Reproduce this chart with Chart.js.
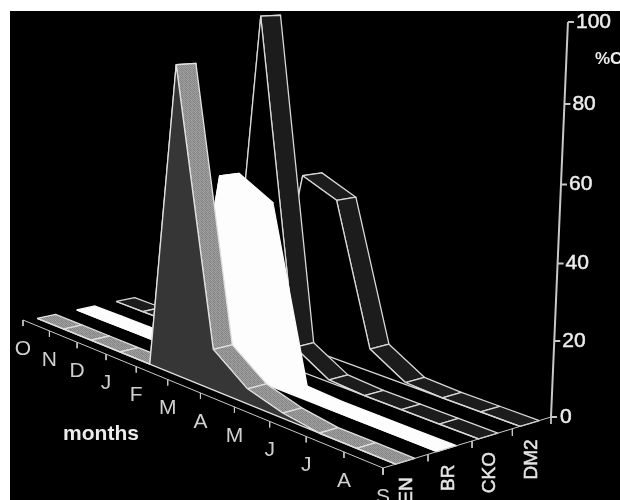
<!DOCTYPE html>
<html>
<head>
<meta charset="utf-8">
<style>html,body{margin:0;padding:0;background:#fff}canvas{display:block}</style>
<script src="https://cdn.jsdelivr.net/npm/chart.js@4/dist/chart.umd.min.js"></script>
</head>
<body>
<canvas id="c" width="620" height="500"></canvas>
<script>
// ---- data ----
const months = ["O","N","D","J","F","M","A","M","J","J","A","S"];
const seriesNames = ["EN","BR","CKO","DM2"];
const valuesEN  = [0,0,0,0,0,76.8,10.3,3.8,1.3,0,0,0];
const valuesBR  = [0,0,0,0,0,48.7,44.2,0.5,0,0,0,0];
const valuesCKO = [0,0,0,0,0,87.3,5.8,0.6,0,0,0,0];
const valuesDM2 = [0,0,0,0,0,45.8,42.2,6,0.5,0,0,0];
const yTicks = [0,20,40,60,80,100];

// ---- projection of (month, series depth, percent) to the flat plane of the scales ----
function monthT(i){const u=i/(months.length-1);return .788*u+.212*u*u;}
function ribbonT(i){const u=i/(months.length-1);return monthT(i)+.006*(1-u);}
function ground(t,s){
  const bx=23+160*s,by=320-34*s,fx=383+168*s,fy=468-51*s;
  return [bx+(fx-bx)*t,by+(fy-by)*t];
}
function proj(t,s,v){
  const g=ground(t,s);
  const k=3.95*(1+.1*(1-s))*(.92+.08*t);
  const h=v*(.9525+.000475*v)*k;
  return {x:g[0]+h*(g[0]-281)*.000159,y:g[1]-h};
}

// ---- texture for the grey ribbon ----
function tex(){
  const c=document.createElement('canvas');c.width=c.height=4;
  const x=c.getContext('2d');
  const g=[0x88,0x9c,0x84,0xa4,0xa0,0x80,0x98,0x8c,0x8a,0xa6,0x82,0x96,0x9e,0x86,0xa2,0x90];
  g.forEach((v,i)=>{x.fillStyle=`rgb(${v},${v},${v})`;x.fillRect(i%4,i>>2,1,1);});
  return x.createPattern(c,'repeat');
}
const styles=[
 {top:tex(),wall:'#363636',line:'#e0e0e0'},
 {top:'#fdfdfd',wall:'#fdfdfd',line:'#fdfdfd'},
 {top:'#1c1c1c',wall:'#000000',line:'#d8d8d8'},
 {top:'#1c1c1c',wall:'#000000',line:'#d8d8d8'}
];
const allValues=[valuesEN,valuesBR,valuesCKO,valuesDM2];
const W=.115;
function near(i){return .075+.247*i;}

const faces=[];
function face(points,fill,line){
  faces.push({data:points,backgroundColor:fill,borderColor:line,borderWidth:1.3,fill:'shape',
    pointRadius:0,pointHoverRadius:0,tension:0,borderJoinStyle:'round'});
}
for(let si=seriesNames.length-1;si>=0;si--){
  const vals=allValues[si],st=styles[si],s0=near(si),s1=s0+W;
  for(let m=0;m<months.length-1;m++){
    const a=ribbonT(m),b=ribbonT(m+1);
    const p=[proj(a,s0,vals[m]),proj(a,s1,vals[m]),proj(b,s1,vals[m+1]),proj(b,s0,vals[m+1])];
    p.push(p[0]);
    face(p,st.top,st.line);
  }
  const wall=vals.map((v,m)=>proj(ribbonT(m),s0,v));
  wall.push(proj(ribbonT(months.length-1),s0,0),proj(ribbonT(0),s0,0),wall[0]);
  face(wall,st.wall,st.line);
}
// axes
function axisLine(points,w){
  faces.push({data:points,borderColor:'#c8c8c8',backgroundColor:'transparent',borderWidth:w||1,fill:false,
    pointRadius:0,pointHoverRadius:0,tension:0,spanGaps:false});
}
const gap={x:NaN,y:NaN};
axisLine(months.map((_,i)=>proj(monthT(i),0,0)));
const mTicks=[];
months.forEach((_,i)=>{const p=proj(monthT(i),0,0);
  mTicks.push({x:p.x,y:p.y},{x:p.x,y:p.y+6},gap);});
axisLine(mTicks);
const sEdges=[0,.268,.53,.77,1];
axisLine(sEdges.map(s=>proj(1,s,0)));
const sTicks=[];
sEdges.forEach(s=>{const p=proj(1,s,0);sTicks.push({x:p.x,y:p.y},{x:p.x,y:p.y+7},gap);});
axisLine(sTicks);
axisLine(yTicks.map(v=>proj(1,1,v)),2);
const yT=[];
yTicks.forEach(v=>{const p=proj(1,1,v);yT.push({x:p.x,y:p.y},{x:p.x+6,y:p.y},gap);});
axisLine(yT,2);

faces.forEach((f,i)=>{f.order=faces.length-i;});

function label(c,text,x,y,w){
  c.fillText(text,x,y);
  if(w){c.lineWidth=w;c.strokeStyle=c.fillStyle;c.strokeText(text,x,y);}
}
const frame={
  id:'frame',
  beforeDraw(ch){
    const c=ch.ctx,X=ch.scales.x,Y=ch.scales.y;
    c.save();
    c.fillStyle='#fff';c.fillRect(0,0,620,500);
    c.fillStyle='#000';
    const x0=X.getPixelForValue(10),y0=Y.getPixelForValue(11);
    c.fillRect(x0,y0,X.getPixelForValue(620)-x0,Y.getPixelForValue(500)-y0);
    c.restore();
  },
  afterDatasetsDraw(ch){
    const c=ch.ctx,X=ch.scales.x,Y=ch.scales.y;
    c.save();
    c.textAlign='center';c.textBaseline='middle';
    const font='"Liberation Sans",Arial,sans-serif';
    c.fillStyle='#d0d0d0';
    c.font='21px '+font;
    months.forEach((m,i)=>{const p=proj(monthT(i),0,0);
      c.fillText(m,X.getPixelForValue(p.x),Y.getPixelForValue(p.y+29));});
    // percent ticks
    c.fillStyle='#ececec';
    c.textAlign='left';
    yTicks.forEach(v=>{const p=proj(1,1,v);
      label(c,String(v),X.getPixelForValue(p.x+(v===0?9:8)),Y.getPixelForValue(p.y),.5);});
    c.font='bold 17px '+font;
    c.fillText('%C',X.getPixelForValue(595),Y.getPixelForValue(59));
    c.fillStyle='#ececec';
    c.font='bold 21px '+font;
    c.textAlign='center';
    c.fillText('months',X.getPixelForValue(101),Y.getPixelForValue(434));
    // series labels
    c.font='19px '+font;
    c.fillStyle='#e4e4e4';
    c.textAlign='right';
    seriesNames.forEach((n,i)=>{
      const p=proj(1,near(i)+W/2,0);
      c.save();
      c.translate(X.getPixelForValue(p.x+2),Y.getPixelForValue(p.y+16));
      c.rotate(-Math.PI/2);
      label(c,n,0,0,.5);
      c.restore();
    });
    c.restore();
  }
};

new Chart(document.getElementById('c'),{
  type:'line',
  data:{datasets:faces},
  options:{
    responsive:false,animation:false,
    layout:{padding:0},
    events:[],
    plugins:{legend:{display:false},tooltip:{enabled:false},title:{display:false}},
    scales:{
      x:{type:'linear',min:0,max:620,display:false},
      y:{type:'linear',min:0,max:500,reverse:true,display:false}
    }
  },
  plugins:[frame]
});
</script>
</body>
</html>
